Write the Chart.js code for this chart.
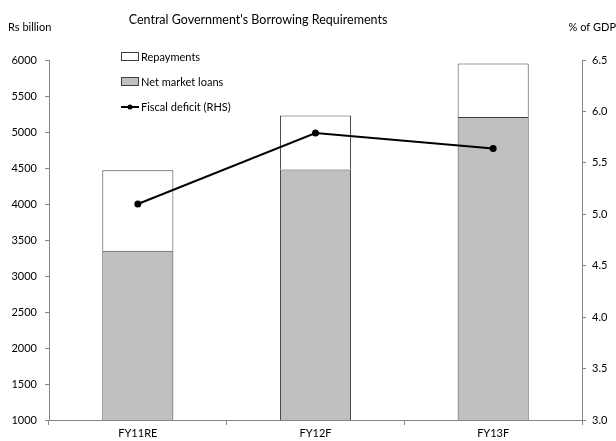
<!DOCTYPE html>
<html>
<head>
<meta charset="utf-8">
<script src="https://cdn.jsdelivr.net/npm/chart.js@4"></script>
<style>
  html, body { margin: 0; padding: 0; background: #fff; }
  #wrap { width: 616px; height: 441px; position: relative; }
</style>
</head>
<body>
<div id="wrap"><canvas id="chart" width="616" height="441"></canvas></div>
<script>
const categories = ['FY11RE', 'FY12F', 'FY13F'];
const netMarketLoans = [3350, 4480, 5210];
const repayments = [1120, 750, 740];
const fiscalDeficit = [5.1, 5.79, 5.64];
const leftTicks = [1000, 1500, 2000, 2500, 3000, 3500, 4000, 4500, 5000, 5500, 6000];
const rightTicks = [3.0, 3.5, 4.0, 4.5, 5.0, 5.5, 6.0, 6.5];

const FONT = 'Lato, "Open Sans", sans-serif';
const axisColor = '#868686';

const overlay = {
    id: 'overlay',
    afterDraw(chart) {
        const ctx = chart.ctx;
        ctx.save();
        ctx.fillStyle = '#000';
        ctx.textBaseline = 'middle';
        ctx.font = '12.5px ' + FONT;
        ctx.textAlign = 'center';
        ctx.fillText("Central Government's Borrowing Requirements", 258, 20);
        ctx.font = '11px ' + FONT;
        ctx.textAlign = 'left';
        ctx.fillText('Rs billion', 8, 27);
        ctx.textAlign = 'right';
        ctx.fillText('% of GDP', 616, 27);

        // legend
        const ds = chart.data.datasets;
        ctx.textAlign = 'left';
        const rows = [
            { d: ds[1], y: 57 },
            { d: ds[0], y: 82 },
            { d: ds[2], y: 107 }
        ];
        rows.forEach(r => {
            if (r.d.type === 'line') {
                ctx.strokeStyle = '#000';
                ctx.lineWidth = 2;
                ctx.beginPath();
                ctx.moveTo(121, r.y);
                ctx.lineTo(139, r.y);
                ctx.stroke();
                ctx.fillStyle = '#000';
                ctx.beginPath();
                ctx.arc(130, r.y, 2.5, 0, Math.PI * 2);
                ctx.fill();
            } else {
                ctx.fillStyle = r.d.backgroundColor;
                ctx.fillRect(121.5, r.y - 4.5, 17, 8);
                ctx.strokeStyle = '#404040';
                ctx.lineWidth = 1;
                ctx.strokeRect(121.5, r.y - 4.5, 17, 8);
            }
            ctx.fillStyle = '#000';
            ctx.fillText(r.d.label, 141, r.y);
        });
        ctx.restore();
    }
};

new Chart(document.getElementById('chart').getContext('2d'), {
    data: {
        labels: categories,
        datasets: [
            {
                type: 'bar',
                label: 'Net market loans',
                data: netMarketLoans,
                backgroundColor: '#c0c0c0',
                borderColor: '#404040',
                borderWidth: 1,
                yAxisID: 'y',
                stack: 's',
                order: 2,
                categoryPercentage: 1,
                barPercentage: 0.4
            },
            {
                type: 'bar',
                label: 'Repayments',
                data: repayments,
                backgroundColor: '#ffffff',
                borderColor: '#404040',
                borderWidth: 1,
                yAxisID: 'y',
                stack: 's',
                order: 2,
                categoryPercentage: 1,
                barPercentage: 0.4
            },
            {
                type: 'line',
                label: 'Fiscal deficit (RHS)',
                data: fiscalDeficit,
                borderColor: '#000',
                backgroundColor: '#000',
                borderWidth: 2,
                pointRadius: 2.5,
                pointBackgroundColor: '#000',
                yAxisID: 'y1',
                order: 1
            }
        ]
    },
    options: {
        responsive: false,
        animation: false,
        layout: { padding: { top: 60, left: 0, right: 0, bottom: 0 } },
        plugins: {
            legend: { display: false },
            tooltip: { enabled: false }
        },
        scales: {
            x: {
                stacked: true,
                offset: true,
                grid: { display: true, drawOnChartArea: false, offset: true, color: axisColor, tickLength: 5, tickColor: axisColor },
                border: { color: axisColor },
                ticks: { color: '#000', font: { family: FONT, size: 11 }, padding: 2 },
                afterFit(s) { s.height = 21; }
            },
            y: {
                stacked: true,
                position: 'left',
                min: 1000,
                max: 6000,
                afterBuildTicks(s) { s.ticks = leftTicks.map(v => ({ value: v })); },
                grid: { drawOnChartArea: false, color: axisColor, tickLength: 4 },
                border: { color: axisColor },
                ticks: { color: '#000', font: { family: FONT, size: 11 }, padding: 8, callback: v => String(v) },
                afterFit(s) { s.width = 49; }
            },
            y1: {
                position: 'right',
                min: 3.0,
                max: 6.5,
                afterBuildTicks(s) { s.ticks = rightTicks.map(v => ({ value: v })); },
                grid: { drawOnChartArea: false, color: axisColor, tickLength: 4 },
                border: { color: axisColor },
                ticks: { color: '#000', font: { family: FONT, size: 11 }, padding: 6, callback: v => v.toFixed(1) },
                afterFit(s) { s.width = 34; }
            }
        }
    },
    plugins: [overlay]
});
</script>
</body>
</html>
